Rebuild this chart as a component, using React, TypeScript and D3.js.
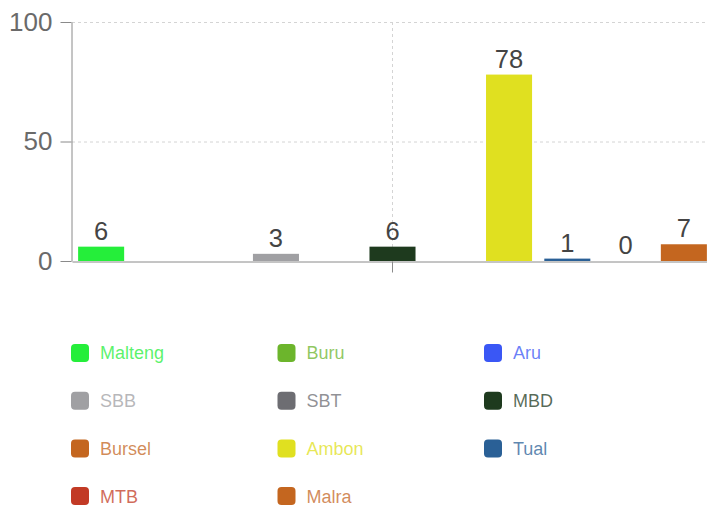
import { useEffect, useRef } from "react";
import * as d3 from "d3";

const regions = ["Malteng", "Buru", "Aru", "SBB", "SBT", "MBD", "Bursel", "Ambon", "Tual", "MTB", "Malra"];
const counts: (number | null)[] = [6, null, null, 3, null, 6, null, 78, 1, 0, 7];
const colors = ["#25ee3a", "#6cb52c", "#3a57f5", "#a0a0a3", "#6d6d72", "#1e3a1e", "#c4661f", "#e0e020", "#2a6096", "#c23a25", "#c4661f"];
const yTicks = [0, 50, 100];
const legendCols = 3;

const W = 707;
const H = 507;
const FONT = "Liberation Sans, Arial, sans-serif";

export default function App() {
  const ref = useRef<SVGSVGElement>(null);

  useEffect(() => {
    if (!ref.current) return;
    const svg = d3.select(ref.current);
    svg.selectAll("*").remove();

    const x = d3
      .scaleBand<string>()
      .domain(regions)
      .range([72, 713])
      .paddingInner(0.21)
      .paddingOuter(0.105);
    const y = d3.scaleLinear().domain([0, 100]).range([261, 22]);

    // grid
    const grid = svg.append("g");
    grid
      .selectAll("line.h")
      .data(yTicks.filter((t) => t > 0))
      .join("line")
      .attr("x1", 72)
      .attr("x2", 713)
      .attr("y1", (d) => y(d) + 0.5)
      .attr("y2", (d) => y(d) + 0.5)
      .attr("stroke", "#d4d4d4")
      .attr("stroke-dasharray", "3,3");
    const midCat = regions[Math.floor(regions.length / 2)];
    const cx = Math.round((x(midCat) ?? 0) + x.bandwidth() / 2) - 0.5;
    grid
      .append("line")
      .attr("x1", cx)
      .attr("x2", cx)
      .attr("y1", y(100))
      .attr("y2", y(0))
      .attr("stroke", "#d4d4d4")
      .attr("stroke-dasharray", "3,3");

    // bars
    const rows = regions.map((r, i) => ({ r, v: counts[i], c: colors[i] }));
    const withVal = rows.filter((d) => d.v !== null) as { r: string; v: number; c: string }[];
    svg
      .append("g")
      .selectAll("rect")
      .data(withVal)
      .join("rect")
      .attr("x", (d) => x(d.r) ?? 0)
      .attr("width", x.bandwidth())
      .attr("y", (d) => y(d.v))
      .attr("height", (d) => y(0) - y(d.v))
      .attr("fill", (d) => d.c);

    svg
      .append("g")
      .selectAll("text")
      .data(withVal)
      .join("text")
      .attr("x", (d) => (x(d.r) ?? 0) + x.bandwidth() / 2)
      .attr("y", (d) => y(d.v) - 7)
      .attr("text-anchor", "middle")
      .attr("font-family", FONT)
      .attr("font-size", 25.5)
      .attr("fill", "#444")
      .text((d) => d.v);

    // axes
    const yAxis = svg
      .append("g")
      .attr("transform", "translate(71.5,0)")
      .call(d3.axisLeft(y).tickValues(yTicks).tickSize(11).tickSizeOuter(0).tickPadding(8));
    const xAxis = svg
      .append("g")
      .attr("transform", `translate(0,${y(0) + 0.5})`)
      .call(
        d3
          .axisBottom(x)
          .tickValues([midCat])
          .tickFormat(() => "")
          .tickSize(11)
          .tickSizeOuter(0)
      );
    [yAxis, xAxis].forEach((g) => {
      g.selectAll("path, line").attr("stroke", "#8a8a8a");
      g.selectAll("text")
        .attr("font-family", FONT)
        .attr("font-size", 26)
        .attr("fill", "#6a6a6a");
    });

    // legend
    const leg = svg
      .append("g")
      .selectAll("g")
      .data(rows)
      .join("g")
      .attr(
        "transform",
        (_d, i) => `translate(${71 + (i % legendCols) * 206.5},${353 + Math.floor(i / legendCols) * 47.7})`
      );
    leg
      .append("rect")
      .attr("x", 0)
      .attr("y", -9)
      .attr("width", 18)
      .attr("height", 18)
      .attr("rx", 4)
      .attr("fill", (d) => d.c);
    leg
      .append("text")
      .attr("x", 29)
      .attr("y", 0)
      .attr("dy", "0.36em")
      .attr("font-family", FONT)
      .attr("font-size", 18)
      .attr("fill", (d) => d.c)
      .attr("fill-opacity", 0.75)
      .text((d) => d.r);
  }, []);

  return (
    <div style={{ position: "absolute", left: 0, top: 0 }}>
      <svg ref={ref} width={W} height={H} style={{ display: "block", background: "#fff" }} />
    </div>
  );
}
